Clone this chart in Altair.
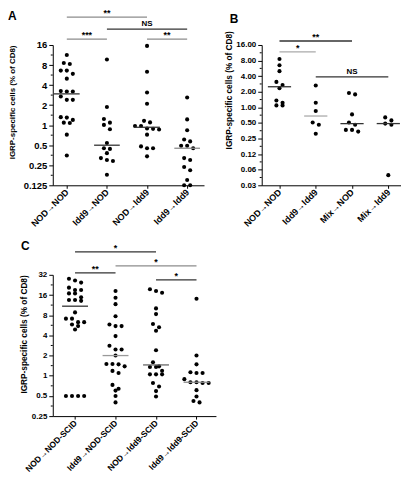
import math
import altair as alt
import pandas as pd

FONT = "Liberation Sans"
YTITLE = "IGRP-specific cells (% of CD8)"

# ---------------- data: panel A ----------------
A_groups = ["NOD→NOD", "Idd9→NOD", "NOD→Idd9", "Idd9→Idd9"]
A_g0 = [11.3, 8.6, 8.3, 6.6, 6.6, 5.9, 5.0, 3.25, 3.2, 3.2, 2.7, 2.4, 2.4,
        1.32, 1.3, 1.2, 1.09, 1.08, 0.72, 0.35]
A_g1 = [9.7, 1.87, 1.24, 1.09, 1.01, 0.87, 0.54, 0.45, 0.44, 0.38, 0.32, 0.30, 0.29, 0.18]
A_g2 = [15.5, 6.35, 3.1, 2.1, 1.16, 1.1, 0.97, 0.97, 0.89, 0.88, 0.86, 0.72, 0.48, 0.45, 0.45, 0.34]
A_g3 = [2.6, 1.22, 0.84, 0.61, 0.57, 0.49, 0.49, 0.45, 0.32, 0.30, 0.235, 0.21, 0.15, 0.125, 0.125]
A_medians = [2.95, 0.5, 0.93, 0.45]
A_yticks = [0.125, 0.25, 0.5, 1, 2, 4, 8, 16]
A_sig_from = [0, 1, 0, 2]
A_sig_to = [2, 3, 1, 3]
A_sig_text = ["**", "NS", "***", "**"]

# ---------------- data: panel B ----------------
B_groups = ["NOD→NOD", "Idd9→Idd9", "Mix→NOD", "Mix→Idd9"]
B_g0 = [8.6, 6.5, 5.0, 3.1, 2.7, 2.35, 1.36, 1.23, 1.09, 1.09]
B_g1 = [2.65, 1.23, 0.85, 0.51, 0.46, 0.31]
B_g2 = [1.89, 1.78, 0.73, 0.51, 0.46, 0.367, 0.34, 0.367]
B_g3 = [0.64, 0.56, 0.486, 0.46, 0.049]
B_medians = [2.5, 0.68, 0.485, 0.486]
B_yticks = [0.03125, 0.0625, 0.125, 0.25, 0.5, 1, 2, 4, 8, 16]
B_sig_from = [0, 0, 1]
B_sig_to = [2, 1, 3]
B_sig_text = ["**", "*", "NS"]

# ---------------- data: panel C ----------------
C_groups = ["NOD→NOD-SCID", "Idd9→NOD-SCID", "NOD→Idd9-SCID", "Idd9→Idd9-SCID"]
C_g0 = [27.9, 26.3, 24.5, 20.6, 19.0, 19.0, 16.9, 16.9, 14.8, 13.5, 13.1, 13.5,
        8.8, 7.1, 7.1, 6.3, 6.3, 5.8, 5.5, 4.9, 0.5, 0.5, 0.5, 0.5]
C_g1 = [18.4, 14.6, 11.7, 7.7, 5.8, 5.5, 5.5, 3.9, 2.8, 2.46, 2.46, 2.0, 1.5, 1.5,
        1.48, 1.38, 1.18, 1.1, 0.73, 0.64, 0.6, 0.5, 0.4]
C_g2 = [19.5, 18.4, 17.3, 10.1, 8.3, 5.9, 5.3, 4.7, 2.4, 1.59, 1.38, 1.35, 1.35,
        1.19, 1.05, 1.05, 1.05, 0.78, 0.69, 0.59, 0.49]
C_g3 = [14.1, 2.0, 1.48, 1.13, 1.1, 1.1, 0.89, 0.8, 0.8, 0.78, 0.78, 0.61, 0.49, 0.42, 0.4]
C_medians = [10.9, 2.0, 1.45, 0.8]
C_yticks = [0.25, 0.5, 1, 2, 4, 8, 16, 32]
C_sig_from = [0, 0, 1, 2]
C_sig_to = [2, 1, 3, 3]
C_sig_text = ["*", "**", "*", "*"]

# ---------------- styles ----------------
DARK = "#333333"
GRAY = "#8c8c8c"
A_style = dict(w=152, h=141, xdom=[-0.35, 3.42], ydom=[0.125, 16],
               med_colors=[DARK, DARK, DARK, GRAY],
               sig_levels=[-28, -16, -6, -6], sig_colors=[GRAY, DARK, GRAY, GRAY],
               letter="A", lx=-45, ly=-25, thr=0.22, step=0.15,
               lab=9.5, tpad=6.5, tsize=8, xlab=9, ttl=dict(titleAnchor="end"))
B_style = dict(w=140, h=141, xdom=[-0.49, 3.35], ydom=[0.03125, 16],
               med_colors=[DARK, "#aaaaaa", DARK, DARK],
               sig_levels=[-4, 7, 32], sig_colors=[DARK, "#aaaaaa", DARK],
               letter="B", lx=-32, ly=-22, thr=0.28, step=0.17,
               lab=8, tpad=2.5, tsize=8.3, xlab=9, ttl=dict(titleY=45, titleAlign="center"))
C_style = dict(w=164, h=142, xdom=[-0.55, 3.48], ydom=[0.25, 32],
               med_colors=[DARK, "#999999", "#666666", GRAY],
               sig_levels=[-23, -2, -9, 5], sig_colors=[DARK, DARK, GRAY, DARK],
               letter="C", lx=-32, ly=-25, thr=0.22, step=0.15,
               lab=8, tpad=3, tsize=8.3, xlab=8.5, ttl=dict(titleAnchor="end"))


def swarm(values, thr, step):
    """Prism-like rows: points of similar value are spread side by side."""
    order = sorted(range(len(values)), key=lambda i: -values[i])
    offs = [0.0] * len(values)
    cluster = []

    def flush(cl):
        n = len(cl)
        for k, i in enumerate(cl):
            offs[i] = (k - (n - 1) / 2) * step

    for i in order:
        if cluster and math.log2(values[cluster[0]] / values[i]) > thr:
            flush(cluster)
            cluster = []
        cluster.append(i)
    flush(cluster)
    return offs


def panel(groups, series, medians, yticks, sig_from, sig_to, sig_text, st, ylabel_expr):
    rows = []
    for g, vals in enumerate(series):
        for v, o in zip(vals, swarm(vals, st["thr"], st["step"])):
            rows.append({"x": g + o, "v": v})
    pts = pd.DataFrame(rows)

    xs = alt.Scale(domain=st["xdom"], nice=False, zero=False)
    ys = alt.Scale(type="log", base=2, domain=st["ydom"], nice=False)
    names = "[" + ",".join("'" + n + "'" for n in groups) + "]"
    xaxis = alt.Axis(values=list(range(len(groups))),
                     labelExpr=names + "[round(datum.value)]",
                     title=None, labelAngle=-45, labelAlign="right",
                     labelBaseline="middle", labelPadding=2, tickSize=3,
                     labelOverlap=False, labelFontSize=st["xlab"])
    yaxis = alt.Axis(values=yticks, title=YTITLE, labelExpr=ylabel_expr,
                     titlePadding=st["tpad"], tickSize=4, labelPadding=2,
                     labelOverlap=False, labelFontSize=st["lab"],
                     titleFontSize=st["tsize"], **st["ttl"])

    def X(f):
        return alt.X(f, scale=xs, axis=xaxis)

    def Y(f):
        return alt.Y(f, scale=ys, axis=yaxis)

    layers = []
    layers.append(alt.Chart(pts).mark_circle(size=17, color="black", opacity=1).encode(
        x=X("x:Q"), y=Y("v:Q")))

    med = pd.DataFrame({"x1": [g - 0.32 for g in range(len(medians))],
                        "x2": [g + 0.32 for g in range(len(medians))],
                        "m": medians, "c": st["med_colors"]})
    layers.append(alt.Chart(med).mark_rule(strokeWidth=1.3).encode(
        x=X("x1:Q"), x2="x2", y=Y("m:Q"),
        color=alt.Color("c:N", scale=None)))

    lo, hi = st["ydom"]
    minor = []
    k = math.log2(lo)
    while k + 0.5 < math.log2(hi):
        minor.append(2 ** (k + 0.5))
        k += 1
    layers.append(alt.Chart(pd.DataFrame({"m": minor})).mark_rule(color="black", strokeWidth=1).encode(
        x=alt.value(-2), x2=alt.value(0), y=Y("m:Q")))

    for a, b, t, lev, col in zip(sig_from, sig_to, sig_text, st["sig_levels"], st["sig_colors"]):
        d = pd.DataFrame({"a": [a], "b": [b], "m": [(a + b) / 2], "t": [t]})
        layers.append(alt.Chart(d).mark_rule(color=col, strokeWidth=1.3).encode(
            x=X("a:Q"), x2="b", y=alt.value(lev)))
        layers.append(alt.Chart(d).mark_text(font=FONT, fontWeight="bold", fontSize=9 if t != "NS" else 8,
                                             baseline="alphabetic", color="black").encode(
            x=X("m:Q"), y=alt.value(lev - (3 if t == "NS" else 1)), text="t:N"))

    layers.append(alt.Chart(pd.DataFrame({"t": [st["letter"]]})).mark_text(
        font=FONT, fontWeight="bold", fontSize=12, align="left", baseline="alphabetic", color="black").encode(
        x=alt.value(st["lx"]), y=alt.value(st["ly"]), text="t:N"))

    return alt.layer(*layers).properties(width=st["w"], height=st["h"])


A = panel(A_groups, [A_g0, A_g1, A_g2, A_g3], A_medians, A_yticks,
          A_sig_from, A_sig_to, A_sig_text, A_style, "format(datum.value, '~g')")
B = panel(B_groups, [B_g0, B_g1, B_g2, B_g3], B_medians, B_yticks,
          B_sig_from, B_sig_to, B_sig_text, B_style,
          "format(floor(datum.value * 100 + 0.0001) / 100, '.2f')")
C = panel(C_groups, [C_g0, C_g1, C_g2, C_g3], C_medians, C_yticks,
          C_sig_from, C_sig_to, C_sig_text, C_style, "format(datum.value, '~g')")

top = alt.hconcat(A, B, spacing=20)
chart = alt.concat(top, C, columns=1, align="none", spacing=11).properties(
    padding={"left": 0, "top": 0, "right": 0, "bottom": 0}
).configure_axis(
    labelFont=FONT, titleFont=FONT, labelFontWeight="bold", titleFontWeight="bold",
    labelColor="black", titleColor="black", domainColor="black", tickColor="black",
    domainWidth=1, tickWidth=1, grid=False
).configure_view(stroke=None)

chart.save("out.html", embed_options={"renderer": "svg", "actions": False})
